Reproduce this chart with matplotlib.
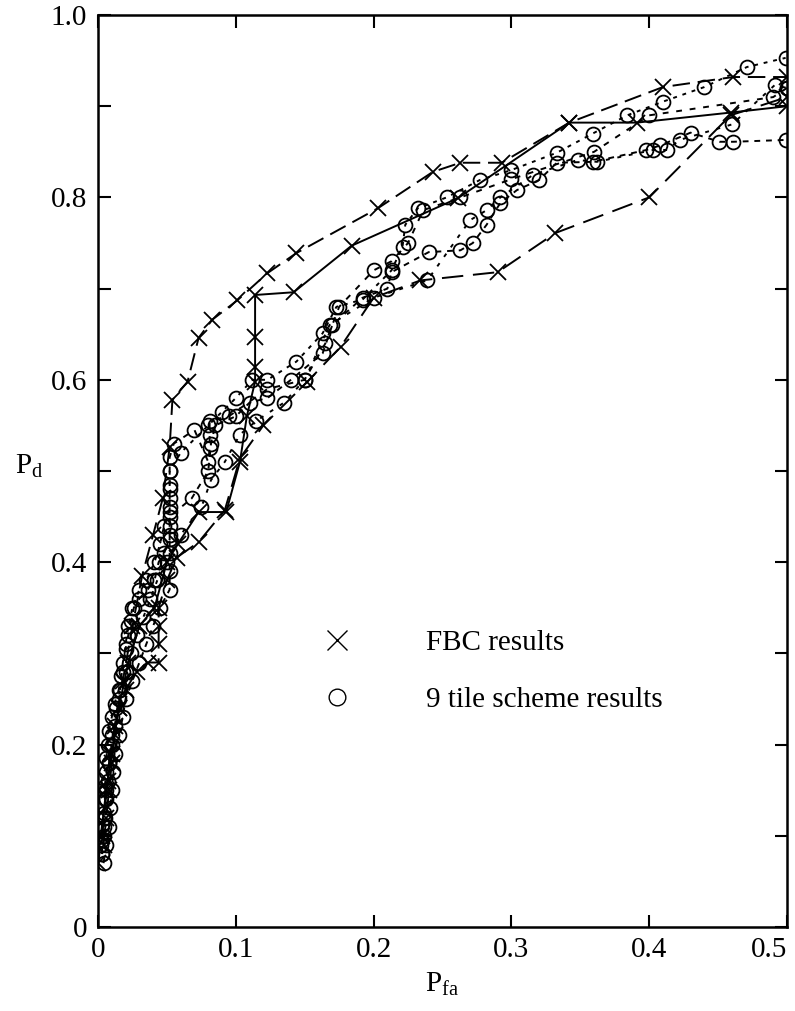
import matplotlib
matplotlib.use("Agg")
import matplotlib.pyplot as plt
from matplotlib.lines import Line2D
from matplotlib.ticker import MultipleLocator, FuncFormatter

plt.rcParams["font.family"] = ["Liberation Serif", "DejaVu Serif"]
plt.rcParams["mathtext.fontset"] = "custom"
plt.rcParams["mathtext.rm"] = "Liberation Serif"
plt.rcParams["mathtext.it"] = "Liberation Serif"

# ROC curves obtained with the feature-based classifier (FBC)
fbc_top_pfa = [0.000, 0.003, 0.005, 0.007, 0.009, 0.012, 0.018, 0.025, 0.032, 0.040,
               0.047, 0.052, 0.054, 0.065, 0.073, 0.083, 0.101, 0.123, 0.144, 0.203,
               0.243, 0.263, 0.293, 0.342, 0.410, 0.461, 0.500]
fbc_top_pd = [0.07, 0.10, 0.13, 0.16, 0.19, 0.22, 0.27, 0.33, 0.385, 0.43,
              0.47, 0.526, 0.578, 0.598, 0.646, 0.666, 0.687, 0.717, 0.739, 0.788,
              0.828, 0.838, 0.838, 0.882, 0.921, 0.932, 0.932]

fbc_mid_pfa = [0.002, 0.006, 0.010, 0.015, 0.022, 0.030, 0.041, 0.050, 0.058, 0.073,
               0.093, 0.103, 0.108, 0.114, 0.114, 0.114, 0.114, 0.142, 0.184, 0.261,
               0.342, 0.391, 0.459, 0.500]
fbc_mid_pd = [0.10, 0.15, 0.19, 0.24, 0.29, 0.33, 0.35, 0.40, 0.42, 0.455,
              0.455, 0.51, 0.56, 0.598, 0.614, 0.647, 0.693, 0.696, 0.747, 0.799,
              0.882, 0.882, 0.893, 0.90]

fbc_low_pfa = [0.004, 0.006, 0.008, 0.010, 0.012, 0.015, 0.020, 0.028, 0.036, 0.044,
               0.044, 0.044, 0.044, 0.050, 0.057, 0.073, 0.092, 0.103, 0.120, 0.152,
               0.176, 0.200, 0.234, 0.290, 0.332, 0.400, 0.459, 0.500]
fbc_low_pd = [0.09, 0.12, 0.15, 0.18, 0.21, 0.24, 0.26, 0.28, 0.29, 0.29,
              0.31, 0.33, 0.35, 0.38, 0.405, 0.422, 0.457, 0.514, 0.55, 0.598,
              0.636, 0.69, 0.709, 0.718, 0.761, 0.80, 0.89, 0.91]

# ROC curves obtained with the 9 tile scheme
tile_a_pfa = [0.003, 0.004, 0.005, 0.006, 0.007, 0.008, 0.010, 0.012, 0.015, 0.018,
              0.020, 0.022, 0.025, 0.030, 0.035, 0.041, 0.045, 0.048, 0.052, 0.052,
              0.052, 0.060, 0.080, 0.090, 0.100, 0.112, 0.123, 0.144, 0.163, 0.173,
              0.192, 0.213, 0.221, 0.223, 0.232, 0.253, 0.277, 0.300, 0.333, 0.359,
              0.384, 0.410, 0.440, 0.471, 0.499]
tile_a_pd = [0.08, 0.10, 0.12, 0.14, 0.16, 0.18, 0.20, 0.22, 0.25, 0.28,
             0.31, 0.33, 0.35, 0.37, 0.38, 0.40, 0.42, 0.44, 0.46, 0.48,
             0.50, 0.52, 0.55, 0.565, 0.58, 0.60, 0.60, 0.62, 0.651, 0.68,
             0.688, 0.72, 0.746, 0.77, 0.788, 0.80, 0.819, 0.83, 0.849, 0.87,
             0.89, 0.905, 0.921, 0.943, 0.953]

tile_b_pfa = [0.004, 0.006, 0.008, 0.009, 0.010, 0.011, 0.012, 0.015, 0.018, 0.020,
              0.025, 0.030, 0.035, 0.040, 0.045, 0.052, 0.052, 0.052, 0.052, 0.052,
              0.068, 0.080, 0.082, 0.085, 0.100, 0.110, 0.123, 0.140, 0.163, 0.170,
              0.192, 0.210, 0.213, 0.240, 0.263, 0.272, 0.282, 0.292, 0.304, 0.320,
              0.333, 0.359, 0.398, 0.408, 0.430, 0.451, 0.461, 0.499]
tile_b_pd = [0.07, 0.09, 0.11, 0.13, 0.15, 0.17, 0.19, 0.21, 0.23, 0.25,
             0.27, 0.29, 0.31, 0.33, 0.35, 0.37, 0.39, 0.41, 0.43, 0.45,
             0.47, 0.50, 0.53, 0.55, 0.56, 0.575, 0.58, 0.60, 0.629, 0.66,
             0.69, 0.70, 0.718, 0.74, 0.742, 0.75, 0.77, 0.794, 0.808, 0.819,
             0.838, 0.839, 0.852, 0.857, 0.871, 0.861, 0.861, 0.863]

tile_c_pfa = [0.002, 0.004, 0.006, 0.008, 0.010, 0.013, 0.016, 0.020, 0.024, 0.028,
              0.033, 0.038, 0.043, 0.050, 0.060, 0.075, 0.082, 0.092, 0.103, 0.115,
              0.135, 0.150, 0.168, 0.200, 0.239, 0.270, 0.282, 0.292, 0.316, 0.348,
              0.362, 0.403, 0.413, 0.422, 0.460, 0.491, 0.500]
tile_c_pd = [0.09, 0.12, 0.15, 0.18, 0.21, 0.24, 0.26, 0.28, 0.30, 0.32,
             0.34, 0.36, 0.38, 0.40, 0.43, 0.46, 0.49, 0.51, 0.54, 0.555,
             0.575, 0.60, 0.66, 0.69, 0.709, 0.775, 0.786, 0.80, 0.825, 0.841,
             0.839, 0.852, 0.852, 0.863, 0.88, 0.923, 0.92]

tile_d_pfa = [0.003, 0.003, 0.004, 0.004, 0.005, 0.005, 0.006, 0.006, 0.007, 0.008,
              0.010, 0.012, 0.015, 0.017, 0.018, 0.020, 0.022, 0.024, 0.026, 0.030,
              0.036, 0.041, 0.044, 0.048, 0.052, 0.052, 0.052, 0.052, 0.052, 0.052,
              0.052, 0.055, 0.070, 0.080, 0.081, 0.081, 0.081, 0.095, 0.123, 0.150,
              0.165, 0.175, 0.200, 0.213, 0.225, 0.236, 0.263, 0.300, 0.360, 0.400,
              0.490, 0.500]
tile_d_pd = [0.08, 0.095, 0.11, 0.125, 0.14, 0.155, 0.17, 0.185, 0.20, 0.215,
             0.23, 0.245, 0.26, 0.275, 0.29, 0.305, 0.32, 0.335, 0.35, 0.36,
             0.37, 0.38, 0.40, 0.41, 0.425, 0.44, 0.455, 0.47, 0.485, 0.50,
             0.515, 0.53, 0.545, 0.51, 0.525, 0.54, 0.555, 0.56, 0.59, 0.60,
             0.64, 0.68, 0.72, 0.73, 0.75, 0.786, 0.80, 0.82, 0.85, 0.89,
             0.91, 0.92]

fbc_curves = [(fbc_top_pfa, fbc_top_pd, (9, 4)),
              (fbc_mid_pfa, fbc_mid_pd, None),
              (fbc_low_pfa, fbc_low_pd, (11, 5))]
tile_curves = [(tile_a_pfa, tile_a_pd, (2, 3)),
               (tile_b_pfa, tile_b_pd, (3, 3)),
               (tile_c_pfa, tile_c_pd, (2, 4)),
               (tile_d_pfa, tile_d_pd, (3, 4))]

xticks = [0.0, 0.1, 0.2, 0.3, 0.4, 0.5]
yticks = [0.0, 0.2, 0.4, 0.6, 0.8, 1.0]

fig = plt.figure(figsize=(7.95, 10.11), dpi=100)
ax = fig.add_axes([98 / 795, 1 - 927 / 1011, 689 / 795, 912 / 1011])

for px, py, dash in fbc_curves:
    line, = ax.plot(px, py, color="black", lw=1.4, marker="x", ms=12, mew=1.3)
    if dash is not None:
        line.set_dashes(dash)

for px, py, dash in tile_curves:
    line, = ax.plot(px, py, color="black", lw=1.4, marker="o", ms=10, mew=1.3,
                    mfc="none", mec="black")
    line.set_dashes(dash)

ax.set_xlim(0, 0.5)
ax.set_ylim(0, 1.0)

ax.set_xticks(xticks)
ax.set_yticks(yticks)
ax.yaxis.set_minor_locator(MultipleLocator(0.1))


def fmt(v, _pos):
    return "0" if abs(v) < 1e-9 else f"{v:.1f}"


ax.xaxis.set_major_formatter(FuncFormatter(fmt))
ax.yaxis.set_major_formatter(FuncFormatter(fmt))

ax.tick_params(axis="both", which="both", direction="in", top=True, right=True,
               width=1.5, labelsize=21, length=9)
ax.tick_params(axis="y", which="major", pad=8)
ax.tick_params(axis="x", which="major", pad=7)

# keep the last x label inside the figure edge
fig.canvas.draw()
ax.get_xticklabels()[-1].set_horizontalalignment("right")

for sp in ax.spines.values():
    sp.set_linewidth(1.8)

ax.set_xlabel(r"$\mathrm{P_{fa}}$", fontsize=21, labelpad=6)
ax.set_ylabel(r"$\mathrm{P_d}$", fontsize=21, rotation=0)
ax.yaxis.set_label_coords(-0.1, 0.49)

handles = [Line2D([], [], color="black", marker="x", ms=14, mew=1.0, linestyle="none"),
           Line2D([], [], color="black", marker="o", ms=12, mew=1.0, mfc="none",
                  linestyle="none")]
ax.legend(handles, ["FBC results", "9 tile scheme results"], loc="upper left",
          bbox_to_anchor=((308 - 98) / 689, (927 - 630) / 912), frameon=False,
          fontsize=21, handlelength=2.0, handletextpad=2.03, labelspacing=1.05,
          borderpad=0, borderaxespad=0)

fig.savefig("out.png", dpi=100)
